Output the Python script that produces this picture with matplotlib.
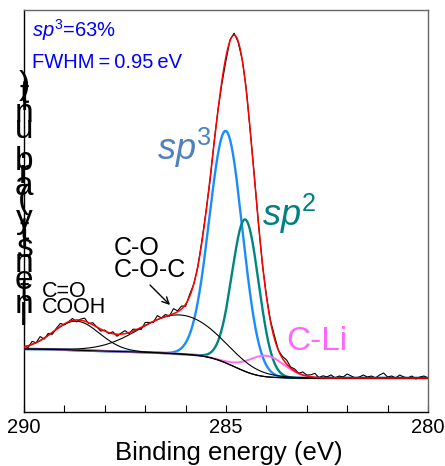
import numpy as np
import matplotlib
matplotlib.use('Agg')
import matplotlib.pyplot as plt
from matplotlib import font_manager
from matplotlib.ticker import MultipleLocator

# ---------------- data ----------------
peak_names = ['sp3', 'sp2', 'C-O', 'C=O', 'C-Li']
peak_centers = [285.00, 284.52, 286.14, 288.70, 284.00]   # eV
peak_heights = [232.0, 152.0, 39.0, 29.0, 21.0]            # a.u.
peak_fwhm = [0.96, 0.78, 2.30, 1.35, 1.05]                 # eV
bg_high = 29.0      # background level at 290 eV side
bg_low = 0.0        # background level at 280 eV side

data_start, data_stop, data_n = 290.0, 280.0, 101
residuals = [1, -2, 3, 0, 4, -1, 2, -2, 1, 3, -1, 0, 2, -2, 1, 3, -1, 2, 0, -2, 1,
             -1, 2, -2, 1, 3, -1, 2, 0, -2, 3, 1, -1, 4, 0, 2, -1, 5, 1, 3, -2,
             2, 0, -1, 2, 1, -2, 1, 0, -3, -4, 1, 2, -1, 0, 2, -1, 1, 0, -1, 1,
             1, 3, 0, 2, 4, 1, 2, 0, 3, 1, 2, 4, 0, 2, 1, 3, 0, 2, 1, 4,
             2, 0, 1, 3, 1, 2, 0, 3, 5, 1, 2, 0, 3, 1, 0, 2, -1, 1, 2, 0]

x_ticks = [290, 285, 280]
x_tick_labels = ['290', '285', '280']
x_label = 'Binding energy (eV)'
y_label = 'Intensity (arb. unit)'

# ---------------- styling ----------------
FONT = ['Liberation Sans', 'DejaVu Sans']
plt.rcParams['font.family'] = FONT
plt.rcParams['mathtext.fontset'] = 'custom'
plt.rcParams['mathtext.rm'] = 'Liberation Sans'
plt.rcParams['mathtext.it'] = 'Liberation Sans:italic'
plt.rcParams['mathtext.bf'] = 'Liberation Sans:bold'

W, H = 445, 466
fig = plt.figure(figsize=(W / 100, H / 100), dpi=100)


def fx(px):
    return px / W


def fy(py):
    return 1 - py / H


ax = fig.add_axes([fx(24), fy(412), fx(428) - fx(24), fy(10) - fy(412)])


def gauss(e, c, h, w):
    return h * np.exp(-4 * np.log(2) * (e - c) ** 2 / w ** 2)


E = np.linspace(280.0, 290.0, 2001)
comps = [gauss(E, c, h, w) for c, h, w in zip(peak_centers, peak_heights, peak_fwhm)]
S = np.sum(comps, axis=0)
A = np.concatenate([[0.0], np.cumsum(0.5 * (S[1:] + S[:-1]) * np.diff(E))])
bkg = bg_low + (bg_high - bg_low) * A / A[-1]
fit = bkg + S

Ed = np.linspace(data_start, data_stop, data_n)
fit_d = np.interp(Ed, E, fit)
meas = fit_d + np.array(residuals, dtype=float)

# components (blue under teal, pink next, black background lines on top)
ax.plot(E, bkg + comps[0], color='#1A8CFF', lw=1.7, zorder=3)
ax.plot(E, bkg + comps[1], color='#00857F', lw=1.7, zorder=4)
ax.plot(E, bkg + comps[4], color='#FF70F0', lw=1.4, zorder=4.5)
ax.plot(E, bkg, color='black', lw=0.9, zorder=5)
ax.plot(E, bkg + comps[3], color='black', lw=0.8, zorder=5)
ax.plot(E, bkg + comps[2], color='black', lw=0.8, zorder=5)
ax.plot(Ed, meas, color='black', lw=0.8, zorder=6)
ax.plot(E, fit, color='#FF0000', lw=1.1, zorder=7)

ax.set_xlim(290, 280)
ax.set_ylim(-34, 368)
ax.set_yticks([])
ax.set_xticks(x_ticks)
ax.set_xticklabels(x_tick_labels)
ax.xaxis.set_minor_locator(MultipleLocator(1))
ax.tick_params(axis='x', which='both', direction='in', length=5, width=0.8,
               labelsize=14.5, pad=4.5, top=False)
for s in ['left', 'bottom']:
    ax.spines[s].set_color('black')
    ax.spines[s].set_linewidth(1.0)
for s in ['top', 'right']:
    ax.spines[s].set_color('#666666')
    ax.spines[s].set_linewidth(1.0)

# x label
fig.text(fx(229), fy(460), x_label, fontsize=18.5, ha='center', va='baseline')

# y label: upright characters stacked bottom-to-top
glyph_size = 24
adv_size = 20.8
try:
    from matplotlib.ft2font import FT2Font
    path = font_manager.findfont(font_manager.FontProperties(family='Liberation Sans'))
    ft = FT2Font(path)
    ft.set_size(adv_size, 100)
    advs = [ft.load_char(ord(ch)).linearHoriAdvance / 65536.0 for ch in y_label]
except Exception:
    advs = [0.5 * adv_size * 100 / 72] * len(y_label)
pos = 320.0
xh = 0.26 * glyph_size * 100 / 72
for ch, a in zip(y_label, advs):
    center = pos - a / 2
    if ch != ' ':
        fig.text(fx(24), fy(center + xh), ch, fontsize=glyph_size,
                 ha='center', va='baseline')
    pos -= a

# annotations
fig.text(fx(32), fy(37), r'$sp^{3}$=63%', fontsize=14.5, color='#0000FF',
         ha='left', va='baseline')
fig.text(fx(32), fy(68), 'FWHM\u2009=\u20090.95\u2009eV', fontsize=14.5, color='#0000FF',
         ha='left', va='baseline')
fig.text(fx(157), fy(160), r'$sp^{3}$', fontsize=26, color='#4F81BD',
         ha='left', va='baseline')
fig.text(fx(262), fy(226), r'$sp^{2}$', fontsize=26, color='#008080',
         ha='left', va='baseline')
fig.text(fx(286), fy(350), 'C-Li', fontsize=24, color='#FF66FF',
         ha='left', va='baseline')
fig.text(fx(114), fy(255), 'C-O', fontsize=18, color='black', ha='left', va='baseline')
fig.text(fx(114), fy(277), 'C-O-C', fontsize=18, color='black', ha='left', va='baseline')
fig.text(fx(42), fy(297), 'C=O', fontsize=15.5, color='black', ha='left', va='baseline')
fig.text(fx(42), fy(313), 'COOH', fontsize=15.5, color='black', ha='left', va='baseline')
ax.annotate('', xy=(fx(170), fy(305)), xycoords='figure fraction',
            xytext=(fx(150), fy(285)), textcoords='figure fraction',
            arrowprops=dict(arrowstyle='->', color='black', lw=1.0,
                            mutation_scale=12, shrinkA=0, shrinkB=0))

fig.savefig('out.png', dpi=100)
